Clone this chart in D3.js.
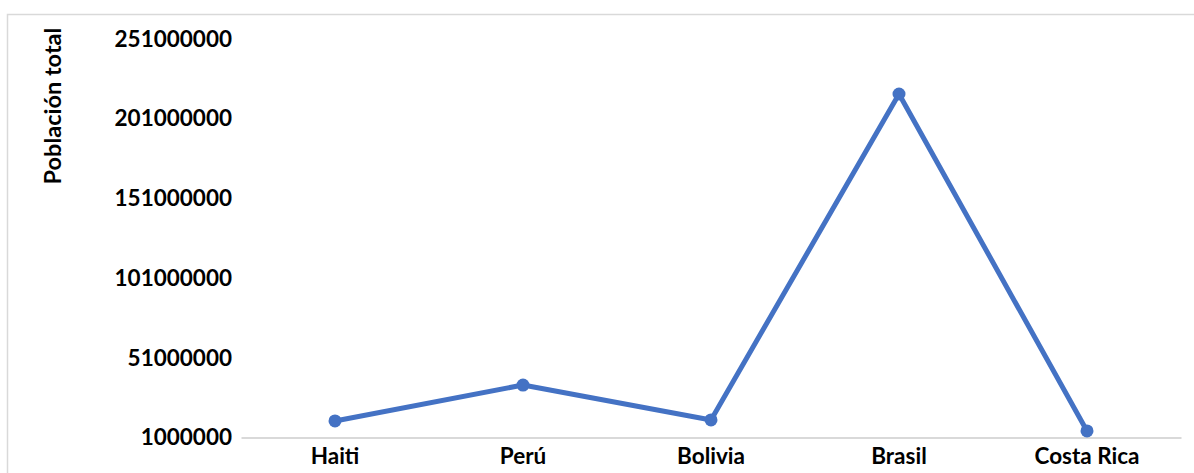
<!DOCTYPE html>
<html>
<head>
<meta charset="utf-8">
<script src="https://cdn.jsdelivr.net/npm/d3@7"></script>
<style>
  html, body { margin: 0; padding: 0; background: #fff; }
  svg { display: block; }
  text { font-family: Lato, "Open Sans", sans-serif; font-weight: bold; fill: #000; }
</style>
</head>
<body>
<svg id="chart" width="1194" height="473"></svg>
<script>
const categories = ["Haiti", "Perú", "Bolivia", "Brasil", "Costa Rica"];
const population = [11400000, 33900000, 12000000, 216500000, 5100000];
const yTicks = [1000000, 51000000, 101000000, 151000000, 201000000, 251000000];
const yTitle = "Población total";

const svg = d3.select("#chart");
const W = 1194, H = 473;
const plot = { left: 241, right: 1181, top: 39, bottom: 437.5 };

// outer chart border (cropped at right/bottom)
svg.append("rect")
  .attr("x", 7.5).attr("y", 14.5)
  .attr("width", W + 20).attr("height", H + 20)
  .attr("fill", "none").attr("stroke", "#d9d9d9").attr("stroke-width", 1.5);

const x = d3.scaleBand().domain(categories).range([plot.left, plot.right]).padding(0);
const y = d3.scaleLinear().domain([1000000, 251000000]).range([plot.bottom, plot.top]);

// y axis labels
const yAxis = svg.append("g")
  .attr("transform", `translate(${plot.left},0)`)
  .call(d3.axisLeft(y).tickValues(yTicks).tickFormat(d3.format("d")).tickSize(0).tickPadding(9));
yAxis.select(".domain").remove();
yAxis.selectAll("text")
  .style("font-family", "Lato, 'Open Sans', sans-serif")
  .style("font-weight", "bold")
  .style("font-size", "22.5px")
  .attr("fill", "#000");

// x axis
const xAxis = svg.append("g")
  .attr("transform", `translate(0,${plot.bottom})`)
  .call(d3.axisBottom(x).tickSize(0).tickPadding(11));
xAxis.select(".domain").attr("stroke", "#d9d9d9").attr("stroke-width", 2);
xAxis.selectAll("text")
  .style("font-family", "Lato, 'Open Sans', sans-serif")
  .style("font-weight", "bold")
  .style("font-size", "22.5px")
  .attr("fill", "#000");

// y title
svg.append("text")
  .attr("transform", `translate(61,106) rotate(-90)`)
  .attr("text-anchor", "middle")
  .style("font-size", "23.5px")
  .text(yTitle);

const pts = categories.map((c, i) => ({ c, v: population[i] }));
const cx = d => x(d.c) + x.bandwidth() / 2;

svg.append("path")
  .datum(pts)
  .attr("fill", "none")
  .attr("stroke", "#4472C4")
  .attr("stroke-width", 5)
  .attr("stroke-linejoin", "round")
  .attr("d", d3.line().x(cx).y(d => y(d.v)));

svg.selectAll("circle.pt")
  .data(pts)
  .join("circle")
  .attr("class", "pt")
  .attr("cx", cx)
  .attr("cy", d => y(d.v))
  .attr("r", 6.5)
  .attr("fill", "#4472C4");
</script>
</body>
</html>
